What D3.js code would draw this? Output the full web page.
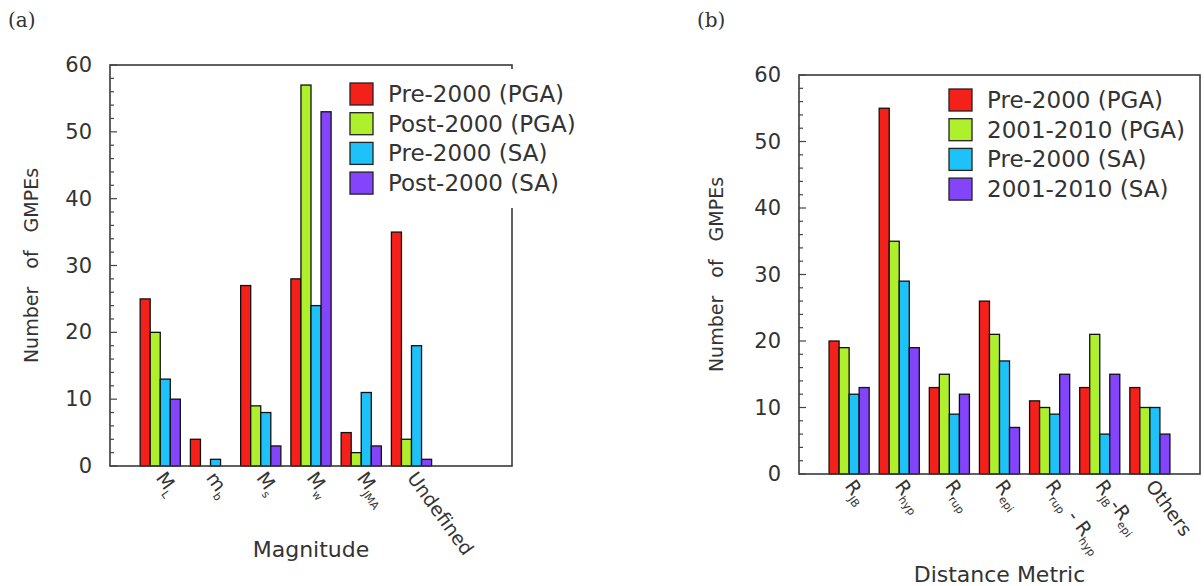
<!DOCTYPE html>
<html><head><meta charset="utf-8">
<script src="https://cdn.jsdelivr.net/npm/d3@7"></script>
<style>
body{margin:0;background:#fff;}
svg{display:block;}
text{font-family:"DejaVu Sans",sans-serif;fill:#333;}
</style></head>
<body><svg id="c" width="1204" height="586"></svg>
<script>
// ---------- data ----------
const yTicks = [0,10,20,30,40,50,60];
const magCategories = ["M_L","m_b","M_s","M_w","M_JMA","Undefined"];
const magTickLabels = [[["M",0],["L",1]],[["m",0],["b",1]],[["M",0],["s",1]],[["M",0],["w",1]],[["M",0],["JMA",1]],[["Undefined",0]]];
const magSeriesNames = ["Pre-2000 (PGA)","Post-2000 (PGA)","Pre-2000 (SA)","Post-2000 (SA)"];
const magPre2000PGA  = [25,4,27,28,5,35];
const magPost2000PGA = [20,0,9,57,2,4];
const magPre2000SA   = [13,1,8,24,11,18];
const magPost2000SA  = [10,0,3,53,3,1];

const distCategories = ["R_JB","R_hyp","R_rup","R_epi","R_rup-R_hyp","R_JB-R_epi","Others"];
const distTickLabels = [[["R",0],["JB",1]],[["R",0],["hyp",1]],[["R",0],["rup",1]],[["R",0],["epi",1]],
  [["R",0],["rup",1],[" - R",0],["hyp",1]],[["R",0],["JB",1],["-R",0],["epi",1]],[["Others",0]]];
const distSeriesNames = ["Pre-2000 (PGA)","2001-2010 (PGA)","Pre-2000 (SA)","2001-2010 (SA)"];
const distPre2000PGA = [20,55,13,26,11,13,13];
const dist2001PGA    = [19,35,15,21,10,21,10];
const distPre2000SA  = [12,29,9,17,9,6,10];
const dist2001SA     = [13,19,12,7,15,15,6];

const colors = ["#f5201a","#aef02c","#1ec2f8","#8444fb"];

const svg = d3.select("#c");

function panel(cfg){
  const {x0,x1,y0,y1,slots,cats,ticks,series,names,xLabel,xLabelY,yLabelX,legend,legendBox} = cfg;
  const g = svg.append("g");
  const x = d3.scaleLinear().domain([0,slots]).range([x0,x1]);
  const y = d3.scaleLinear().domain([0,60]).range([y0,y1]);
  const inner = d3.scaleBand().domain(d3.range(series.length)).range([-0.4,0.4]);

  // bars
  series.forEach((vals,j)=>{
    g.append("g").selectAll("rect").data(vals.map((v,i)=>({v,i})).filter(d=>d.v>0)).join("rect")
      .attr("x",d=>x(d.i+1+inner(j)))
      .attr("width",x(inner.bandwidth())-x(0))
      .attr("y",d=>y(d.v))
      .attr("height",d=>y(0)-y(d.v))
      .attr("fill",colors[j]).attr("stroke","#111").attr("stroke-width",1.3);
  });

  // frame
  g.append("rect").attr("x",x0).attr("y",y1).attr("width",x1-x0).attr("height",y0-y1)
    .attr("fill","none").attr("stroke","#3a3a3a").attr("stroke-width",1.6);

  // y axis: minor + major ticks inward
  const minor = d3.range(0,61,2);
  g.append("g").selectAll("line").data(minor).join("line")
    .attr("x1",x0).attr("x2",d=>x0+(d%10===0?7:4))
    .attr("y1",d=>y(d)).attr("y2",d=>y(d)).attr("stroke","#444").attr("stroke-width",1.2);
  g.append("g").selectAll("text").data(ticks).join("text")
    .attr("x",x0-18).attr("y",d=>y(d)).attr("text-anchor","end").attr("dominant-baseline","central")
    .attr("font-size",21).text(d=>d);

  // legend
  if(legendBox){
    g.append("rect").attr("x",legendBox[0]).attr("y",legendBox[1]).attr("width",legendBox[2]).attr("height",legendBox[3]).attr("fill","#fff");
  }
  const lg = g.append("g");
  names.forEach((n,j)=>{
    const ly = legend.y + j*29.7;
    lg.append("rect").attr("x",legend.x).attr("y",ly).attr("width",23).attr("height",22)
      .attr("fill",colors[j]).attr("stroke","#222").attr("stroke-width",1.3);
    lg.append("text").attr("x",legend.x+38).attr("y",ly+11).attr("dominant-baseline","central")
      .attr("font-size",23).text(n);
  });

  // x tick labels (rotated)
  cats.forEach((c,i)=>{
    const cx = x(i+1);
    const t = g.append("text").attr("transform",`translate(${cx-5},${y0+12}) rotate(54)`)
      .attr("font-size",19).attr("text-anchor","start");
    cfg.tickLabels[i].forEach(([s,sub])=>{
      t.append("tspan").attr("font-size",sub?11:19)
        .attr("baseline-shift",sub?"-45%":"0%").text(s);
    });
  });

  // axis labels
  g.append("text").attr("x",(x0+x1)/2).attr("y",xLabelY).attr("text-anchor","middle")
    .attr("font-size",22).text(xLabel);
  g.append("text").attr("transform",`translate(${yLabelX},${(y0+y1)/2}) rotate(-90)`)
    .attr("text-anchor","middle").attr("font-size",19).attr("word-spacing",12).text("Number of GMPEs");
}

panel({x0:110,x1:512,y0:466,y1:65,slots:8,cats:magCategories,tickLabels:magTickLabels,ticks:yTicks,
  series:[magPre2000PGA,magPost2000PGA,magPre2000SA,magPost2000SA],names:magSeriesNames,
  xLabel:"Magnitude",xLabelY:557,yLabelX:38,legend:{x:350,y:83},legendBox:[338,69,260,139]});

panel({x0:799,x1:1200,y0:474,y1:75,slots:8,cats:distCategories,tickLabels:distTickLabels,ticks:yTicks,
  series:[distPre2000PGA,dist2001PGA,distPre2000SA,dist2001SA],names:distSeriesNames,
  xLabel:"Distance Metric",xLabelY:582,yLabelX:723,legend:{x:949,y:89},legendBox:null});

// panel labels
svg.append("text").attr("x",8).attr("y",27).attr("font-size",20).style("font-family","DejaVu Serif").text("(a)");
svg.append("text").attr("x",697).attr("y",27).attr("font-size",20).style("font-family","DejaVu Serif").text("(b)");
</script></body></html>
